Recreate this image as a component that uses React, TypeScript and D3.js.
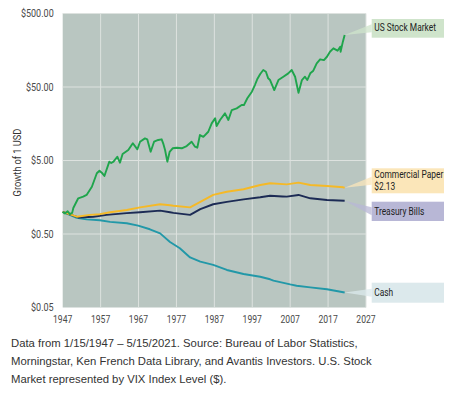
import React from 'react';
import * as d3 from 'd3';

// values (year, growth of $1)
const stockYears = [1947, 1947.6, 1948.3, 1948.9, 1949.5, 1949.8, 1951.1, 1952.4, 1953.3, 1954.7, 1956.0, 1956.7, 1957.3, 1958.0, 1959.3, 1959.8, 1960.4, 1961.4, 1962.1, 1962.8, 1964.3, 1965.5, 1966.7, 1967.4, 1968.7, 1969.3, 1970.2, 1971.1, 1972.2, 1973.1, 1973.5, 1974.0, 1974.6, 1975.2, 1976.0, 1977.1, 1978.4, 1979.7, 1981.0, 1981.9, 1982.5, 1983.2, 1984.1, 1985.4, 1986.3, 1987.2, 1987.6, 1988.5, 1989.8, 1990.7, 1991.6, 1992.9, 1994.2, 1994.8, 1995.7, 1996.9, 1997.7, 1998.3, 1999.1, 1999.9, 2000.6, 2001.2, 2001.7, 2002.8, 2003.9, 2005.2, 2006.5, 2007.4, 2008.3, 2009.2, 2010.1, 2010.9, 2011.5, 2012.3, 2013.1, 2014.0, 2014.9, 2015.9, 2016.7, 2017.5, 2018.4, 2019.5, 2020.2, 2020.3, 2020.9, 2021.37];
const stockValues = [1.0, 0.95, 1.02, 0.93, 0.97, 1.13, 1.53, 1.61, 1.7, 2.2, 3.35, 3.63, 3.41, 3.08, 4.82, 4.62, 4.82, 5.63, 4.67, 6.12, 6.95, 8.57, 7.1, 9.01, 10.0, 9.71, 6.59, 9.01, 9.51, 9.71, 8.57, 6.95, 4.82, 6.53, 7.33, 7.47, 7.33, 7.87, 9.01, 7.71, 7.47, 11.1, 10.5, 12.3, 16.0, 18.8, 14.7, 17.8, 21.9, 17.8, 24.3, 25.6, 28.4, 28.4, 35.1, 43.2, 53.2, 63.6, 75.2, 85.1, 80.7, 65.6, 62.2, 45.5, 62.2, 69.0, 76.7, 85.1, 69.0, 41.8, 62.2, 69.0, 62.2, 76.7, 83.3, 105, 119, 116, 129, 151, 168, 156, 177, 151, 207, 255];

const paperYears = [1947, 1950.7, 1954.2, 1956.8, 1959.5, 1963.9, 1967.4, 1972.7, 1975.3, 1976.2, 1980.6, 1983.3, 1986.7, 1990.3, 1994.7, 1999.1, 2001.7, 2006.1, 2009.2, 2012.3, 2016.7, 2021.0, 2021.37];
const paperValues = [1.0, 0.86, 0.91, 0.93, 0.99, 1.06, 1.15, 1.27, 1.23, 1.21, 1.15, 1.37, 1.7, 1.88, 2.03, 2.32, 2.45, 2.37, 2.5, 2.32, 2.25, 2.16, 2.13];

const billsYears = [1947, 1951.1, 1955.1, 1958.6, 1963.9, 1967.4, 1972.7, 1975.3, 1976.2, 1980.6, 1983.3, 1986.7, 1990.3, 1994.7, 1999.1, 2001.7, 2005.0, 2006.1, 2009.2, 2012.3, 2016.7, 2021.37];
const billsValues = [1.0, 0.84, 0.86, 0.91, 0.96, 0.99, 1.04, 0.99, 0.97, 0.91, 1.09, 1.27, 1.37, 1.48, 1.58, 1.66, 1.62, 1.61, 1.7, 1.53, 1.45, 1.42];

const cashYears = [1947, 1950.7, 1953.3, 1956.8, 1959.5, 1963.9, 1966.9, 1970.0, 1972.7, 1975.3, 1977.9, 1980.6, 1983.3, 1986.7, 1990.3, 1994.7, 1999.1, 2001.7, 2002.6, 2007.0, 2008.7, 2012.3, 2016.7, 2021.37];
const cashValues = [1.0, 0.83, 0.79, 0.77, 0.73, 0.7, 0.65, 0.58, 0.51, 0.39, 0.32, 0.24, 0.21, 0.19, 0.162, 0.143, 0.131, 0.121, 0.116, 0.103, 0.099, 0.094, 0.0885, 0.08];

const yTicks = [0.05, 0.5, 5, 50, 500];
const yTickLabels = ['$0.05', '$0.50', '$5.00', '$50.00', '$500.00'];
const xTicks = [1947, 1957, 1967, 1977, 1987, 1997, 2007, 2017, 2027];

const seriesNames = ['US Stock Market', 'Commercial Paper', 'Treasury Bills', 'Cash'];
const paperEndLabel = '$2.13';

const captionLines = [
  'Data from 1/15/1947 \u2013 5/15/2021. Source: Bureau of Labor Statistics,',
  'Morningstar, Ken French Data Library, and Avantis Investors. U.S. Stock',
  'Market represented by VIX Index Level ($).',
];

const W = 456;
const H = 398;
const margin = { top: 13.5, right: 90, bottom: 90.5, left: 62.7 };
const font = 'Roboto, "Liberation Sans", sans-serif';

// condensed-looking text: squeeze glyphs horizontally
function CText({ x, y, sx = 0.84, size = 10, anchor = 'start', fill = '#222', dy, children }: any) {
  return (
    <text transform={`translate(${x},${y}) scale(${sx},1)`} textAnchor={anchor} dy={dy} fontSize={size} fontFamily={font} fill={fill}>
      {children}
    </text>
  );
}

export default function App() {
  const innerW = 366 - margin.left;
  const innerH = 307.5 - margin.top;

  const x = d3.scaleLinear().domain([1947, 2027]).range([0, innerW]);
  const y = d3.scaleLog().domain([0.05, 500]).range([innerH, 0]);

  const line = d3.line<[number, number]>()
    .x(d => x(d[0]))
    .y(d => y(d[1]));

  const zip = (a: number[], b: number[]) => a.map((v, i) => [v, b[i]] as [number, number]);

  const series = [
    { name: seriesNames[0], data: zip(stockYears, stockValues), color: '#1fa54c', box: '#cfe4cb', boxTop: 19, boxH: 18.7 },
    { name: seriesNames[1], data: zip(paperYears, paperValues), color: '#f5b927', box: '#fbe6b9', boxTop: 168.3, boxH: 25 },
    { name: seriesNames[2], data: zip(billsYears, billsValues), color: '#1c2b55', box: '#b8b7d6', boxTop: 201.7, boxH: 19.3 },
    { name: seriesNames[3], data: zip(cashYears, cashValues), color: '#2298a8', box: '#dce9ec', boxTop: 282.7, boxH: 20 },
  ];

  const boxX = 371.7 - margin.left;
  const boxW = 72.3;
  const tx = boxX + 2.5;

  return (
    <svg width={W} height={H} style={{ position: 'absolute', left: 0, top: 0 }}>
      <rect width={W} height={H} fill="#ffffff" />
      <g transform={`translate(${margin.left},${margin.top})`}>
        <rect width={innerW} height={innerH} fill="#b9c6c1" />
        {/* grid */}
        {yTicks.slice(1).map(t => (
          <line key={'gy' + t} x1={0} x2={innerW} y1={y(t)} y2={y(t)} stroke="#dde2df" strokeWidth={1} />
        ))}
        {xTicks.slice(1).map(t => (
          <line key={'gx' + t} x1={x(t)} x2={x(t)} y1={0} y2={innerH} stroke="#dde2df" strokeWidth={1} />
        ))}
        {/* axis labels */}
        {yTicks.map((t, i) => (
          <CText key={'ty' + t} x={-9} y={y(t)} dy="0.35em" anchor="end" size={10.5} sx={0.86} fill="#4a4a4a">
            {yTickLabels[i]}
          </CText>
        ))}
        {xTicks.map(t => (
          <CText key={'tx' + t} x={x(t)} y={innerH + 15.2} anchor="middle" size={10} sx={0.86} fill="#4a4a4a">
            {t}
          </CText>
        ))}
        <text transform={`translate(${17 - margin.left},${innerH / 2 + 2}) rotate(-90) scale(0.9,1)`} textAnchor="middle" dy="0.35em" fontSize={10.3} fontFamily={font} fill="#333">
          Growth of 1 USD
        </text>

        {/* callouts */}
        {series.map(s => {
          const last = s.data[s.data.length - 1];
          const px = x(last[0]);
          const py = y(last[1]);
          const by = s.boxTop - margin.top;
          const mid = by + s.boxH / 2;
          const wedge = `M${px},${py} L${boxX},${mid - 4} L${boxX},${mid + 4} Z`;
          return (
            <g key={'c' + s.name}>
              <path d={wedge} fill={s.box} opacity={0.75} />
              <rect x={boxX} y={by} width={boxW} height={s.boxH} fill={s.box} />
            </g>
          );
        })}

        {/* series lines */}
        {series.slice().reverse().map(s => (
          <path key={s.name} d={line(s.data) || ''} fill="none" stroke={s.color} strokeWidth={1.9} strokeLinejoin="round" />
        ))}

        {/* label texts */}
        <CText x={tx} y={31 - margin.top}>{seriesNames[0]}</CText>
        <CText x={tx} y={178.3 - margin.top}>{seriesNames[1]}</CText>
        <CText x={tx} y={189.5 - margin.top}>{paperEndLabel}</CText>
        <CText x={tx} y={214.5 - margin.top}>{seriesNames[2]}</CText>
        <CText x={tx} y={295.5 - margin.top}>{seriesNames[3]}</CText>
      </g>

      {captionLines.map((c, i) => (
        <text key={'cap' + i} x={11} y={346.7 + i * 18.3} fontSize={11.3} fontFamily='"Liberation Sans", Arial, sans-serif' fill="#333">
          {c}
        </text>
      ))}
    </svg>
  );
}
